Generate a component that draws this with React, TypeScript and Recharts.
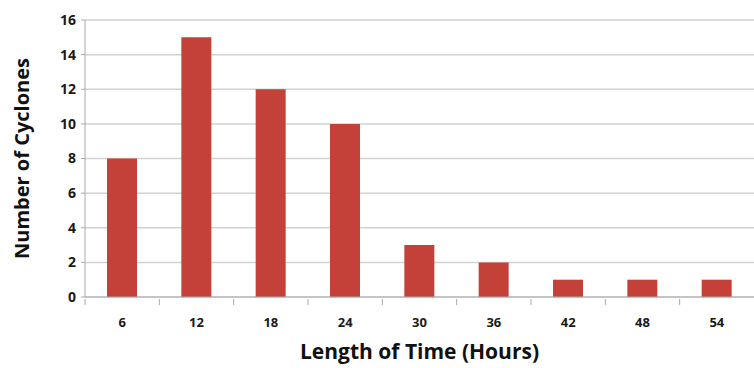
import { BarChart, Bar, XAxis, YAxis, CartesianGrid, Label } from 'recharts';

const hours = ['6', '12', '18', '24', '30', '36', '42', '48', '54'];
const cyclones = [8, 15, 12, 10, 3, 2, 1, 1, 1];
const yTicks = [0, 2, 4, 6, 8, 10, 12, 14, 16];

const data = hours.map((h, i) => ({ hours: h, cyclones: cyclones[i] }));

const FONT = '"Open Sans", "Liberation Sans", sans-serif';
const BAR_COLOR = '#c4413a';

// tick do eixo X: texto no centro + marquinha entre categorias (estilo Excel)
function XTick(props: any) {
  const { x, y, payload } = props;
  const half = payload?.offset ?? 0;
  return (
    <g>
      <line x1={x - half} y1={y - 6} x2={x - half} y2={y} stroke="#aaa" />
      <text
        x={x}
        y={y + 13}
        dy="0.71em"
        textAnchor="middle"
        fontFamily={FONT}
        fontWeight={700}
        fontSize={13}
        fill="#1a1a1a"
      >
        {payload.value}
      </text>
    </g>
  );
}

export default function App() {
  return (
    <div style={{ position: 'absolute', left: 0, top: 0, background: '#fff' }}>
      <BarChart
        width={754}
        height={368}
        data={data}
        margin={{ top: 20, right: 0, bottom: 0, left: 0 }}
        barCategoryGap="30%"
      >
        <CartesianGrid vertical={false} stroke="#d2d2d2" strokeWidth={1.5} />
        <XAxis
          dataKey="hours"
          height={71}
          axisLine={{ stroke: '#aaa' }}
          tickLine={false}
          tick={<XTick />}
          interval={0}
        >
          <Label
            value="Length of Time (Hours)"
            position="insideBottom"
            offset={9}
            style={{ fontFamily: FONT, fontWeight: 700, fontSize: 21, fill: '#111' }}
          />
        </XAxis>
        <YAxis
          width={85}
          domain={[0, 16]}
          ticks={yTicks}
          interval={0}
          axisLine={{ stroke: '#aaa' }}
          tickLine={{ stroke: '#aaa' }}
          tickSize={4}
          tickMargin={5}
          tick={{ fontFamily: FONT, fontWeight: 700, fontSize: 14, fill: '#1a1a1a' }}
        >
          <Label
            value="Number of Cyclones"
            angle={-90}
            position="insideLeft"
            offset={22}
            style={{ textAnchor: 'middle', fontFamily: FONT, fontWeight: 700, fontSize: 20, fill: '#111' }}
          />
        </YAxis>
        <Bar dataKey="cyclones" fill={BAR_COLOR} barSize={30} isAnimationActive={false} />
      </BarChart>
    </div>
  );
}
